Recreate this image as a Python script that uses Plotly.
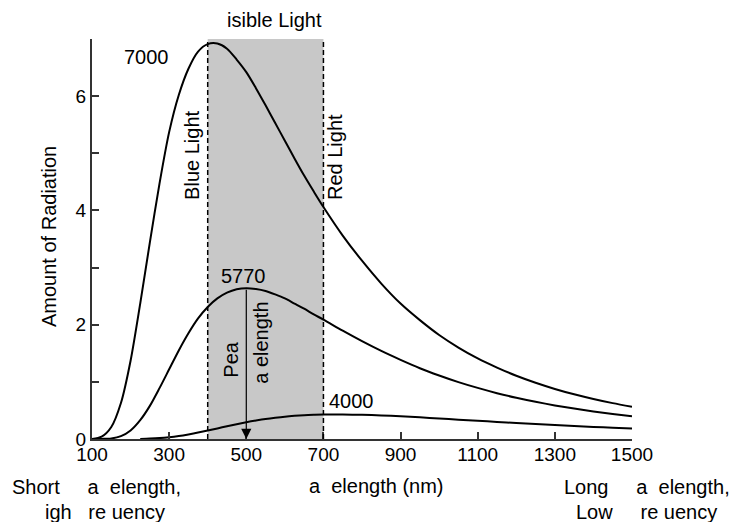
import plotly.graph_objects as go

# ---- data ----
wavelength = [100, 125, 150, 175, 200, 225, 250, 275, 300, 325, 350, 375, 400, 425, 450,
              475, 500, 525, 550, 575, 600, 625, 650, 675, 700,
              750, 800, 850, 900, 950, 1000, 1050, 1100, 1150, 1200, 1250, 1300, 1350, 1400, 1450, 1500]
rad_7000 = [0.0, 0.04, 0.21, 0.63, 1.37, 2.37, 3.44, 4.47, 5.37, 6.02, 6.48, 6.78, 6.91, 6.92, 6.83,
            6.64, 6.42, 6.14, 5.84, 5.53, 5.22, 4.91, 4.61, 4.33, 4.06,
            3.56, 3.12, 2.72, 2.37, 2.08, 1.82, 1.60, 1.41, 1.25, 1.107, 0.984, 0.876, 0.782, 0.70, 0.628, 0.564]
rad_5770 = [0.0, 0.002, 0.01, 0.05, 0.15, 0.33, 0.58, 0.89, 1.22, 1.55, 1.85, 2.11, 2.31, 2.46, 2.56,
            2.62, 2.64, 2.625, 2.59, 2.53, 2.46, 2.37, 2.28, 2.18, 2.09,
            1.895, 1.712, 1.541, 1.385, 1.239, 1.112, 0.996, 0.894, 0.802, 0.722, 0.651, 0.588, 0.532, 0.481, 0.437, 0.397]
rad_4000 = [None, None, None, None, None, 0.002, 0.007, 0.016, 0.031, 0.052, 0.080, 0.112, 0.148, 0.185, 0.223,
            0.259, 0.293, 0.323, 0.350, 0.372, 0.391, 0.405, 0.416, 0.423, 0.428,
            0.429, 0.423, 0.412, 0.397, 0.379, 0.359, 0.339, 0.319, 0.2985, 0.279, 0.261, 0.243, 0.2265, 0.211, 0.197, 0.183]
temperatures = ["7000", "5770", "4000"]

x_tick_vals = [100, 300, 500, 700, 900, 1100, 1300, 1500]
y_tick_vals = [0, 1, 2, 3, 4, 5, 6, 7]
y_tick_text = ["0", "", "2", "", "4", "", "6", ""]
visible_band = [400, 700]
peak_wavelength = 500
peak_value = 2.64

FONT = "Liberation Sans, Arial, Helvetica, sans-serif"
NB = "\u00a0"

fig = go.Figure()
for vals in (rad_7000, rad_5770, rad_4000):
    fig.add_trace(go.Scatter(x=wavelength, y=vals, mode="lines",
                             line=dict(color="black", width=2, shape="spline", smoothing=0.8),
                             hoverinfo="skip", connectgaps=False))

# visible band
fig.add_shape(type="rect", x0=visible_band[0], x1=visible_band[1], y0=0, y1=7,
              fillcolor="#c8c8c8", line=dict(width=0), layer="below")
for xv in visible_band:
    fig.add_shape(type="line", x0=xv, x1=xv, y0=0, y1=7,
                  line=dict(color="black", width=1.5, dash="5px,3px"), layer="above")

ann = []
def txt(text, x, y, xref="x", yref="y", size=20, angle=0, xanchor="center", yanchor="middle"):
    ann.append(dict(text=text, x=x, y=y, xref=xref, yref=yref, showarrow=False,
                    font=dict(family=FONT, size=size, color="black"), textangle=angle,
                    xanchor=xanchor, yanchor=yanchor))

# curve labels
txt(temperatures[0], 240, 6.68)
txt(temperatures[1], 494, 2.86)
txt(temperatures[2], 773, 0.67)

txt("Blue Light", 359, 4.97, angle=-90)
txt("Red Light", 732, 4.93, angle=-90)
txt("Pea", 458, 1.39, angle=-90)
txt("a" + NB + "elength", 539, 1.69, angle=-90)

def px(p):
    return (p - 92) / 540.0
def py(p):
    return (439 - p) / 400.0

txt("isible Light", px(274), py(20), xref="paper", yref="paper")
txt("Amount of Radiation", px(49), py(237), xref="paper", yref="paper", angle=-90, size=20)
txt("a" + NB + NB + "elength (nm)", px(376), py(486), xref="paper", yref="paper")
txt("Short" + NB * 5 + "a" + NB + NB + "elength,", px(96.5), py(487), xref="paper", yref="paper")
txt("igh" + NB * 3 + "re" + NB + "uency", px(105), py(512), xref="paper", yref="paper")
txt("Long" + NB * 5 + "a" + NB + NB + "elength,", px(647), py(487), xref="paper", yref="paper")
txt("Low" + NB * 5 + "re" + NB + "uency", px(646.5), py(512), xref="paper", yref="paper")

# peak wavelength arrow
ann.append(dict(x=peak_wavelength, y=0, ax=peak_wavelength, ay=peak_value,
                xref="x", yref="y", axref="x", ayref="y", text="", showarrow=True,
                arrowhead=2, arrowsize=1.7, arrowwidth=1.2, arrowcolor="black", standoff=0))

axis_common = dict(showgrid=False, zeroline=False, showline=True, linecolor="#333",
                   linewidth=2, ticks="inside", ticklen=7, tickwidth=1.5, tickcolor="#333",
                   tickfont=dict(family=FONT, size=19, color="black"), automargin=False)

fig.update_layout(
    width=734, height=522,
    margin=dict(l=92, r=102, t=39, b=83, autoexpand=False),
    plot_bgcolor="white", paper_bgcolor="white",
    showlegend=False,
    xaxis=dict(range=[100, 1500], tickvals=x_tick_vals, ticklabelstandoff=-3, **axis_common),
    yaxis=dict(range=[0, 7], tickvals=y_tick_vals, ticktext=y_tick_text, **axis_common),
    annotations=ann,
)

fig.write_html("out.html")
